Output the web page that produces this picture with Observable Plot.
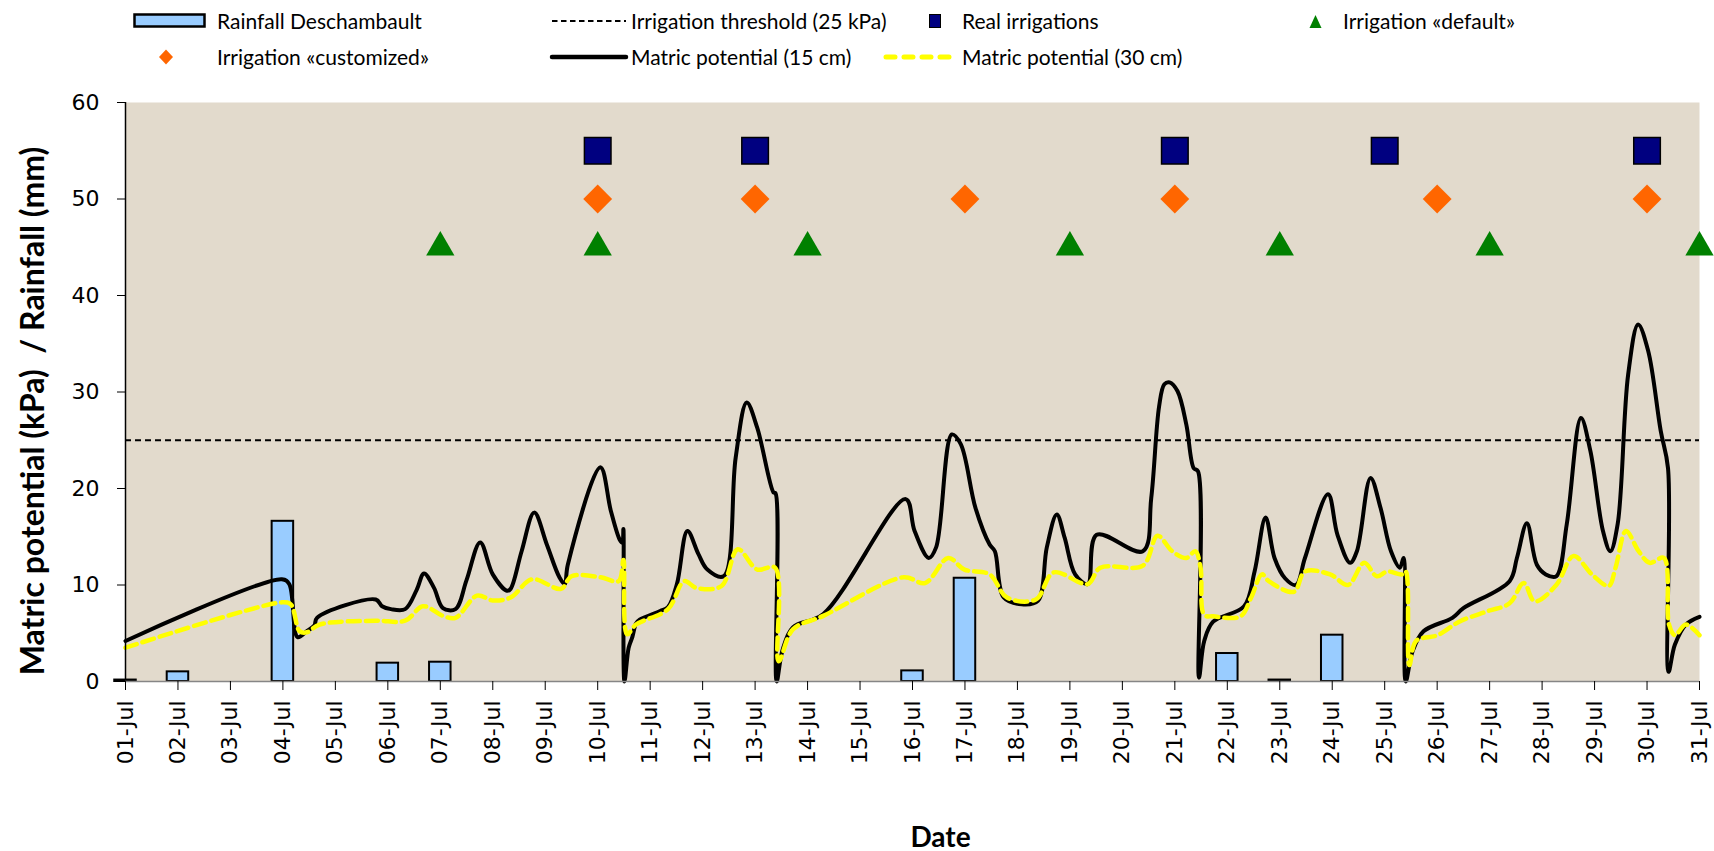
<!DOCTYPE html>
<html><head><meta charset="utf-8">
<script src="https://cdn.jsdelivr.net/npm/d3@7"></script>
<script src="https://cdn.jsdelivr.net/npm/@observablehq/plot@0.6"></script>
<style>
body{margin:0;background:#fff;}
#wrap{position:relative;width:1714px;height:851px;overflow:hidden;}
#legend{position:relative;width:1714px;height:80px;font-family:Lato,sans-serif;font-size:21px;color:#000;}
.sw{position:absolute;overflow:visible;}
.lt{position:absolute;white-space:nowrap;line-height:24px;height:24px;}
#chart svg{display:block;}
</style></head><body>
<div id="wrap"><div id="legend"></div><div id="chart"></div></div>
<script>
// ---- data ----
const dayTicks = d3.range(1, 32);
const yTicks = [0, 10, 20, 30, 40, 50, 60];

const rainDay = [1, 2, 4, 6, 7, 16, 17, 22, 23, 24];
const rainMm  = [0.15, 1.0, 16.6, 1.9, 2.0, 1.1, 10.7, 2.9, 0.15, 4.8];

const thresholdKPa = 25;

const realIrrDays = [10, 13, 21, 25, 30];
const realIrrLevel = 55;
const customDays = [10, 13, 17, 21, 26, 30];
const customLevel = 50;
const defaultDays = [7, 10, 14, 19, 23, 27, 31];
const defaultLevel = 45;

const m15Day = [1.00,3.98,4.12,4.28,4.45,4.60,4.65,5.77,5.89,6.06,6.33,6.55,6.69,6.88,7.05,7.29,7.50,7.76,8.00,8.27,8.34,8.55,8.79,9.03,9.27,9.37,9.43,10.05,10.25,10.42,10.47,10.49,10.51,10.59,10.66,10.73,10.80,11.19,11.34,11.51,11.71,11.92,12.09,12.40,12.63,12.84,13.04,13.35,13.39,13.41,13.52,13.72,14.30,15.87,16.04,16.31,16.45,16.75,16.92,17.20,17.47,17.57,17.74,18.08,18.39,18.56,18.75,18.90,19.10,19.34,19.51,20.39,20.55,20.70,20.80,20.90,21.05,21.22,21.36,21.44,21.46,21.56,21.73,22.32,22.52,22.73,22.90,23.10,23.31,23.48,23.92,24.10,24.34,24.47,24.73,24.92,25.12,25.29,25.36,25.40,25.53,25.74,26.29,26.50,27.38,27.52,27.71,27.90,28.07,28.27,28.47,28.74,28.92,29.16,29.30,29.44,29.64,29.83,30.02,30.26,30.40,30.41,30.53,30.74,31.00];
const m15Val = [4.2,10.6,10.1,4.6,5.2,5.8,6.6,8.5,7.8,7.5,7.5,9.5,11.2,9.7,7.6,7.5,10.5,14.4,11.1,9.4,9.6,13.5,17.5,14.2,10.8,10.1,12.1,22.2,17.7,14.7,14.4,15.8,0,3.5,4.6,6.0,6.4,7.3,7.7,10.1,15.6,13.2,11.6,10.9,23.2,28.9,26.3,19.6,19.5,0,3.2,5.6,7.0,18.9,15.6,12.8,13.9,25.6,24.6,18.0,14.2,13.5,8.7,8.0,8.35,13.9,17.3,14.9,11.1,10.1,15.2,13.5,19.0,28.5,30.8,31.0,30.1,26.6,22.1,21.8,0.4,4.2,6.2,7.8,11.4,17.0,12.8,10.7,10.0,12.8,19.4,15.2,12.3,13.5,21.1,18.0,13.5,11.8,12.8,0,3.1,5.2,6.6,7.6,10.4,12.8,16.4,12.1,11.1,10.9,16.3,27.3,23.9,15.6,13.5,16.3,31.8,37.0,34.3,26.0,22.1,1.0,3.8,5.9,6.7];

const m30Day = [1.00,3.98,4.15,4.32,4.46,4.70,5.77,6.33,6.67,7.05,7.29,7.70,8.00,8.34,8.75,9.30,9.50,10.05,10.40,10.49,10.56,10.73,11.34,11.65,11.88,12.36,12.67,13.04,13.38,13.45,13.72,14.30,15.83,16.24,16.68,16.99,17.47,17.80,18.35,18.69,19.34,19.58,20.39,20.67,20.95,21.22,21.39,21.49,21.56,21.73,22.25,22.45,22.66,22.79,23.27,23.48,23.96,24.30,24.61,24.85,25.05,25.33,25.40,25.47,25.60,26.01,26.42,26.97,27.38,27.65,27.86,28.27,28.60,28.95,29.27,29.40,29.60,29.84,30.05,30.32,30.42,30.53,30.74,31.00];
const m30Val = [3.5,8.2,8.0,5.2,5.1,5.9,6.3,6.3,7.8,6.8,6.6,8.9,8.4,8.7,10.6,9.6,10.9,10.8,10.4,12.6,4.9,5.9,7.5,10.4,9.7,9.9,13.7,11.6,11.8,2.1,5.4,6.8,10.8,10.2,12.8,11.6,11.1,8.7,8.5,11.3,10.1,11.8,12.0,15.1,13.5,12.8,13.5,11.8,6.9,6.75,6.75,8.65,11.1,10.4,9.3,11.4,11.1,10.0,12.3,10.9,11.4,11.1,11.4,1.7,4.2,4.8,6.2,7.3,8.1,10.2,8.3,10.0,13.0,11.1,9.9,11.8,15.6,13.5,12.3,12.8,5.9,4.8,5.9,4.8];

const legendLabels = ["Rainfall Deschambault","Irrigation threshold (25 kPa)","Real irrigations","Irrigation «default»","Irrigation «customized»","Matric potential (15 cm)","Matric potential (30 cm)"];

// ---- tables ----
const rain = rainDay.map((d, i) => ({day: d, mm: rainMm[i]}));
const m15 = m15Day.map((d, i) => ({day: d, v: m15Val[i]}));
const m30 = m30Day.map((d, i) => ({day: d, v: m30Val[i]}));
const realIrr = realIrrDays.map(d => ({day: d, v: realIrrLevel}));
const custom = customDays.map(d => ({day: d, v: customLevel}));
const deflt = defaultDays.map(d => ({day: d, v: defaultLevel}));

const C = {rain: "#99CCFF", real: "#000080", custom: "#FF6600", def: "#008000", yellow: "#FFFF00", bg: "#E2DACC"};
const halfBar = 0.205;

// ---- legend ----
const legend = document.getElementById("legend");
function sw(left, top, w, h, inner) {
  const s = document.createElementNS("http://www.w3.org/2000/svg", "svg");
  s.setAttribute("class", "sw"); s.setAttribute("width", w); s.setAttribute("height", h);
  s.style.left = left + "px"; s.style.top = top + "px";
  s.innerHTML = inner; legend.appendChild(s);
}
function lt(left, cy, text) {
  const d = document.createElement("div"); d.className = "lt";
  d.style.left = left + "px"; d.style.top = (cy - 12) + "px"; d.textContent = text; legend.appendChild(d);
}
const r1 = 21, r2 = 57;
sw(133, r1 - 8, 74, 16, `<rect x="1.5" y="1.5" width="70" height="12" fill="${C.rain}" stroke="black" stroke-width="2.5"/>`);
lt(217, r1, legendLabels[0]);
sw(552, r1 - 3, 74, 6, `<line x1="0" y1="3" x2="74" y2="3" stroke="black" stroke-width="2" stroke-dasharray="5.5,3.5"/>`);
lt(631, r1, legendLabels[1]);
sw(929, r1 - 7, 13, 15, `<rect x="0.5" y="0.5" width="11" height="13" fill="${C.real}" stroke="black" stroke-width="1"/>`);
lt(962, r1, legendLabels[2]);
sw(1309, r1 - 7, 13, 15, `<path d="M6.5,1 L12.5,14 L0.5,14 Z" fill="${C.def}"/>`);
lt(1343, r1, legendLabels[3]);
sw(158, r2 - 8, 16, 16, `<path d="M8,0.5 L15,8 L8,15.5 L1,8 Z" fill="${C.custom}"/>`);
lt(217, r2, legendLabels[4]);
sw(550, r2 - 4, 78, 8, `<line x1="2" y1="4" x2="76" y2="4" stroke="black" stroke-width="4.5" stroke-linecap="round"/>`);
lt(631, r2, legendLabels[5]);
sw(883, r2 - 4, 76, 8, `<line x1="3" y1="4" x2="72" y2="4" stroke="${C.yellow}" stroke-width="5" stroke-linecap="round" stroke-dasharray="9,9"/>`);
lt(962, r2, legendLabels[6]);

// ---- chart ----
const fmt = d => String(d).padStart(2, "0") + "-Jul";
const chart = Plot.plot({
  width: 1714, height: 771,
  marginTop: 22, marginBottom: 170, marginLeft: 125, marginRight: 15,
  x: {domain: [1, 31]},
  y: {domain: [0, 60]},
  style: {fontFamily: "'DejaVu Sans', sans-serif", fontSize: "22px", background: "transparent", color: "black", overflow: "visible"},
  marks: [
    Plot.frame({fill: C.bg, stroke: "none"}),
    Plot.ruleY([thresholdKPa], {stroke: "black", strokeWidth: 2, strokeDasharray: "6,4"}),
    Plot.rectY(rain, {x1: d => d.day - halfBar, x2: d => d.day + halfBar, y: "mm", fill: C.rain, stroke: "black", strokeWidth: 2}),
    Plot.line(m15, {x: "day", y: "v", stroke: "black", strokeWidth: 4, curve: "catmull-rom"}),
    Plot.line(m30, {x: "day", y: "v", stroke: C.yellow, strokeWidth: 4.5, strokeDasharray: "12,6", curve: "catmull-rom"}),
    Plot.ruleX([1], {stroke: "black", strokeWidth: 1.5}),
    Plot.ruleY([0], {stroke: "#868686", strokeWidth: 1.5}),
    Plot.dot(deflt, {x: "day", y: "v", symbol: "triangle", fill: C.def, stroke: "none", r: 10.5}),
    Plot.dot(custom, {x: "day", y: "v", symbol: "diamond2", fill: C.custom, stroke: "none", r: 13}),
    Plot.dot(realIrr, {x: "day", y: "v", symbol: "square", fill: C.real, stroke: "black", strokeWidth: 1.5, r: 15}),
    Plot.axisY({ticks: yTicks, tickSize: 8, tickPadding: 18, label: null, stroke: "black"}),
    Plot.axisX({ticks: dayTicks, tickFormat: fmt, tickRotate: -90, tickSize: 9, tickPadding: 10, label: null, stroke: "black"}),
    Plot.text(["Matric potential (kPa)\u00A0 / Rainfall (mm)"], {frameAnchor: "left", dx: -92, dy: 19, rotate: -90, textAnchor: "middle", text: d => d, fontFamily: "Lato", fontWeight: "bold", fontSize: 32, fill: "black"}),
    Plot.text(["Date"], {frameAnchor: "bottom", dx: 28, dy: 165, text: d => d, fontFamily: "Lato", fontWeight: "bold", fontSize: 28, fill: "black"})
  ]
});
document.getElementById("chart").appendChild(chart);
</script>
</body></html>
